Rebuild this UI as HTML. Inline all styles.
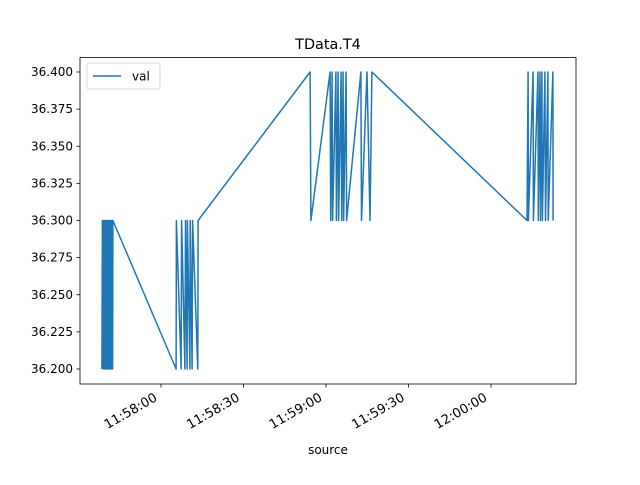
<!DOCTYPE html>
<html><head><meta charset="utf-8"><style>
body{margin:0;background:#fff;font-family:"Liberation Sans","DejaVu Sans",sans-serif;}
</style></head><body>
<svg id="chart" width="640" height="480" xmlns="http://www.w3.org/2000/svg" font-family="DejaVu Sans, Liberation Sans, sans-serif">
<rect width="640" height="480" fill="#fff"/>
<text x="328" y="49" font-size="14.4" text-anchor="middle">TData.T4</text>
<text x="328" y="454" font-size="12" text-anchor="middle">source</text>
<g id="ticks"></g>
<polyline id="line" fill="none" stroke="#1f77b4" stroke-width="1.5" stroke-linejoin="round"/>
<rect x="80" y="57.6" width="496" height="326.4" fill="none" stroke="#000" stroke-width="0.8"/>
<g>
<rect x="87" y="63" width="73" height="26" rx="2" fill="#fff" stroke="#ccc" stroke-width="0.8"/>
<line x1="93" y1="76" x2="121" y2="76" stroke="#1f77b4" stroke-width="1.5"/>
<text x="132" y="80.5" font-size="12">val</text>
</g>
</svg>
<script>
// seconds relative to 11:58:00
const times=[-21.5,-21.3,-21.1,-20.9,-20.7,-20.5,-20.3,-20.1,-19.9,-19.7,-19.5,-19.3,-19.1,-18.9,-18.7,-18.5,-18.3,-18.1,-17.9,-17.7,-17.6,-17.5,
5.5,5.6,7.3,7.5,8.7,8.9,9.5,9.6,10.5,10.6,11.3,11.5,13.4,13.5,
54.2,54.5,61.5,61.7,62.2,62.4,63.6,63.8,64.4,64.6,65.5,65.7,66.2,66.4,67.3,67.5,72.7,72.9,74.9,76.0,76.7,
133.1,133.5,133.6,135.3,135.4,137.1,137.2,137.8,138.0,138.5,138.7,139.6,139.8,140.7,140.8,142.5,142.6];
const vals=[36.2,36.3,36.2,36.3,36.2,36.3,36.2,36.3,36.2,36.3,36.2,36.3,36.2,36.3,36.2,36.3,36.2,36.3,36.2,36.3,36.2,36.3,
36.2,36.3,36.2,36.3,36.2,36.3,36.2,36.3,36.2,36.3,36.2,36.3,36.2,36.3,
36.4,36.3,36.4,36.3,36.4,36.3,36.4,36.3,36.4,36.3,36.4,36.3,36.4,36.3,36.4,36.3,36.4,36.3,36.4,36.3,36.4,
36.3,36.4,36.3,36.4,36.3,36.4,36.3,36.4,36.3,36.4,36.3,36.4,36.3,36.4,36.3,36.4,36.3];
const yTicks=[36.2,36.225,36.25,36.275,36.3,36.325,36.35,36.375,36.4];
const xTicks=[0,30,60,90,120];
const xTickLabels=["11:58:00","11:58:30","11:59:00","11:59:30","12:00:00"];
const X=s=>161+s*2.75;
const Y=v=>369-(v-36.2)*1485;
const NS="http://www.w3.org/2000/svg";
const line=document.getElementById('line');
line.setAttribute('points',times.map((t,i)=>X(t).toFixed(1)+','+Y(vals[i]).toFixed(1)).join(' '));
const g=document.getElementById('ticks');
yTicks.forEach(v=>{
 const y=Y(v);
 const l=document.createElementNS(NS,'line');
 
 
 l.setAttribute('x1',76.5);l.setAttribute('x2',80);l.setAttribute('y1',y);l.setAttribute('y2',y);l.setAttribute('stroke','#000');l.setAttribute('stroke-width','0.8');
 g.appendChild(l);
 const t=document.createElementNS(NS,'text');
 
 
 t.setAttribute('x',73);t.setAttribute('y',y+4);t.setAttribute('font-size','12');t.setAttribute('text-anchor','end');
 t.textContent=v.toFixed(3);g.appendChild(t);
});
xTicks.forEach((s,i)=>{
 const x=X(s);
 const l=document.createElementNS(NS,'line');
 
 
 l.setAttribute('x1',x);l.setAttribute('x2',x);l.setAttribute('y1',384);l.setAttribute('y2',387.5);l.setAttribute('stroke','#000');l.setAttribute('stroke-width','0.8');
 g.appendChild(l);
 const t=document.createElementNS(NS,'text');
 
 
 t.setAttribute('font-size','13');t.setAttribute('text-anchor','end');
 t.setAttribute('transform','translate('+(x-3)+',400) rotate(-30)');
 t.textContent=xTickLabels[i];g.appendChild(t);
});
</script>
</body></html>
